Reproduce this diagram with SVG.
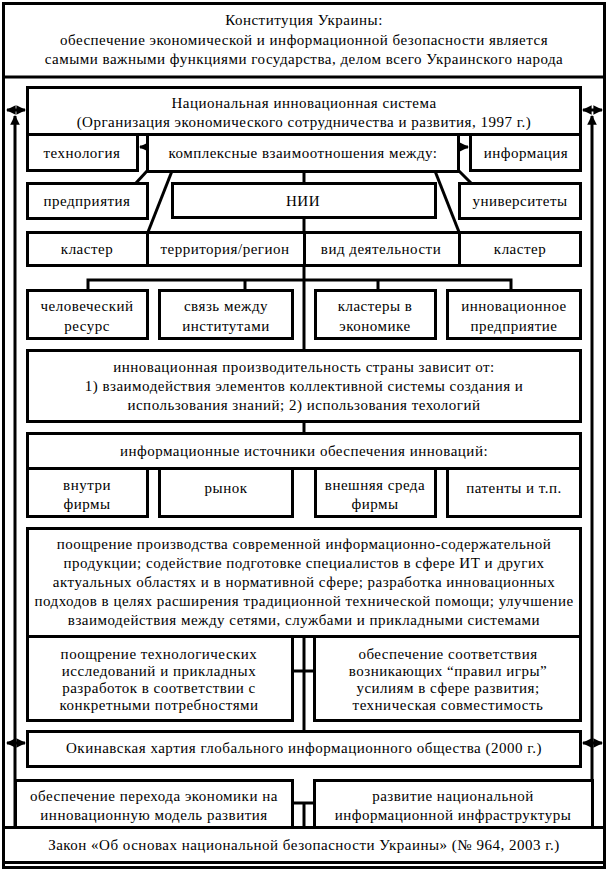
<svg xmlns="http://www.w3.org/2000/svg" width="608" height="872" viewBox="0 0 608 872">
<defs>
<style>
.b{fill:#fff;stroke:#000;stroke-width:3}
.l{fill:none;stroke:#000;stroke-width:3}
.t{font-size:15px;fill:#000;text-anchor:middle;letter-spacing:0.5px}
</style>
<marker id="ah" viewBox="0 0 10 10" refX="9" refY="5" markerWidth="3.2" markerHeight="3.2" orient="auto-start-reverse" markerUnits="strokeWidth">
<path d="M0,0 L10,5 L0,10 Z" fill="#000"/>
</marker>
</defs>
<rect x="0" y="0" width="608" height="872" fill="#fff"/>

<g id="outer">
<rect class="b" x="3.5" y="3.5" width="601" height="864"/>
</g>

<g font-family="'Liberation Serif', 'DejaVu Serif', serif">
<g id="constitution">
<line class="l" x1="3" y1="77" x2="605" y2="77"/>
<text class="t" x="304" y="25">Конституция Украины:</text>
<text class="t" x="304" y="45">обеспечение экономической и информационной безопасности является</text>
<text class="t" x="304" y="64">самыми важными функциями государства, делом всего Украинского народа</text>
</g>

<g id="connectors">
<line class="l" x1="15" y1="827" x2="15" y2="116" marker-end="url(#ah)"/>
<line class="l" x1="592" y1="827" x2="592" y2="116" marker-end="url(#ah)"/>
<line class="l" x1="7" y1="110" x2="25" y2="110" marker-start="url(#ah)" marker-end="url(#ah)"/>
<line class="l" x1="583" y1="110" x2="602" y2="110" marker-start="url(#ah)" marker-end="url(#ah)"/>
<line class="l" x1="7" y1="743" x2="25" y2="743" marker-start="url(#ah)" marker-end="url(#ah)"/>
<line class="l" x1="583" y1="743" x2="602" y2="743" marker-start="url(#ah)" marker-end="url(#ah)"/>
<line class="l" x1="147" y1="147" x2="140" y2="147" marker-end="url(#ah)"/>
<line class="l" x1="459" y1="147" x2="468" y2="147" marker-end="url(#ah)"/>
<line class="l" x1="147" y1="171" x2="136" y2="183"/>
<line class="l" x1="459" y1="171" x2="471" y2="183"/>
<line class="l" x1="172" y1="171" x2="148" y2="232"/>
<line class="l" x1="435" y1="171" x2="459" y2="232"/>
<line class="l" x1="304" y1="171" x2="304" y2="183"/>
<line class="l" x1="304" y1="217" x2="304" y2="232"/>
<line class="l" x1="304" y1="265" x2="304" y2="350"/>
<polyline class="l" points="88,291 88,280 511,280 511,291"/>
<line class="l" x1="245" y1="280" x2="245" y2="291"/>
<line class="l" x1="378" y1="280" x2="378" y2="291"/>
<line class="l" x1="304" y1="421" x2="304" y2="433"/>
<line class="l" x1="304" y1="636" x2="304" y2="731"/>
<line class="l" x1="292" y1="671" x2="315" y2="671"/>
<line class="l" x1="292" y1="803" x2="315" y2="803"/>
<line class="l" x1="304" y1="803" x2="304" y2="827"/>
</g>

<g id="nis">
<rect class="b" x="27.5" y="87.5" width="553" height="47"/>
<text class="t" x="304" y="108">Национальная инновационная система</text>
<text class="t" x="304" y="127">(Организация экономического сотрудничества и развития, 1997 г.)</text>
</g>
<g id="tech">
<rect class="b" x="27.5" y="134.5" width="110" height="36"/>
<text class="t" x="82" y="158">технология</text>
</g>
<g id="complex">
<rect class="b" x="147.5" y="134.5" width="311" height="37"/>
<text class="t" x="303" y="158">комплексные взаимоотношения между:</text>
</g>
<g id="info">
<rect class="b" x="470.5" y="134.5" width="110" height="36"/>
<text class="t" x="526" y="158">информация</text>
</g>
<g id="enterprises">
<rect class="b" x="27.5" y="183.5" width="120" height="35"/>
<text class="t" x="87" y="206">предприятия</text>
</g>
<g id="nii">
<rect class="b" x="172.5" y="183.5" width="263" height="34"/>
<text class="t" x="303" y="206">НИИ</text>
</g>
<g id="universities">
<rect class="b" x="459.5" y="183.5" width="121" height="35"/>
<text class="t" x="520" y="206">университеты</text>
</g>
<g id="cluster1">
<rect class="b" x="27.5" y="232.5" width="120" height="33"/>
<text class="t" x="87" y="254">кластер</text>
</g>
<g id="territory">
<rect class="b" x="147.5" y="232.5" width="157" height="33"/>
<text class="t" x="225" y="254">территория/регион</text>
</g>
<g id="activity">
<rect class="b" x="304.5" y="232.5" width="155" height="33"/>
<text class="t" x="381" y="254">вид деятельности</text>
</g>
<g id="cluster2">
<rect class="b" x="459.5" y="232.5" width="121" height="33"/>
<text class="t" x="520" y="254">кластер</text>
</g>

<g id="human">
<rect class="b" x="27.5" y="290.5" width="120" height="48"/>
<text class="t" x="87" y="311">человеческий</text>
<text class="t" x="87" y="331">ресурс</text>
</g>
<g id="link">
<rect class="b" x="159.5" y="290.5" width="133" height="48"/>
<text class="t" x="226" y="311">связь между</text>
<text class="t" x="226" y="331">институтами</text>
</g>
<g id="clusters">
<rect class="b" x="315.5" y="290.5" width="120" height="48"/>
<text class="t" x="375" y="311">кластеры в</text>
<text class="t" x="375" y="331">экономике</text>
</g>
<g id="innovent">
<rect class="b" x="447.5" y="290.5" width="133" height="48"/>
<text class="t" x="514" y="311">инновационное</text>
<text class="t" x="514" y="331">предприятие</text>
</g>

<g id="productivity">
<rect class="b" x="27.5" y="350.5" width="553" height="71"/>
<text class="t" x="304" y="372">инновационная производительность страны зависит от:</text>
<text class="t" x="304" y="391">1) взаимодействия элементов коллективной системы создания и</text>
<text class="t" x="304" y="410">использования знаний; 2) использования техологий</text>
</g>

<g id="sources">
<rect class="b" x="27.5" y="433.5" width="553" height="35"/>
<text class="t" x="304" y="456">информационные источники обеспечения инноваций:</text>
</g>
<g id="inside">
<rect class="b" x="27.5" y="468.5" width="120" height="48"/>
<text class="t" x="87" y="490">внутри</text>
<text class="t" x="87" y="509">фирмы</text>
</g>
<g id="market">
<rect class="b" x="159.5" y="468.5" width="133" height="48"/>
<text class="t" x="226" y="493">рынок</text>
</g>
<g id="external">
<rect class="b" x="315.5" y="468.5" width="120" height="48"/>
<text class="t" x="375" y="490">внешняя среда</text>
<text class="t" x="375" y="509">фирмы</text>
</g>
<g id="patents">
<rect class="b" x="447.5" y="468.5" width="133" height="48"/>
<text class="t" x="514" y="493">патенты и т.п.</text>
</g>

<g id="promotion">
<rect class="b" x="27.5" y="528.5" width="553" height="108"/>
<text class="t" x="304" y="549">поощрение производства современной информационно-содержательной</text>
<text class="t" x="304" y="568">продукции; содействие подготовке специалистов в сфере ИТ и других</text>
<text class="t" x="304" y="587">актуальных областях и в нормативной сфере; разработка инновационных</text>
<text class="t" x="304" y="606">подходов в целях расширения традиционной технической помощи; улучшение</text>
<text class="t" x="304" y="625">взаимодействия между сетями, службами и прикладными системами</text>
</g>
<g id="research">
<rect class="b" x="27.5" y="636.5" width="265" height="84"/>
<text class="t" x="159" y="659">поощрение технологических</text>
<text class="t" x="159" y="676">исследований и прикладных</text>
<text class="t" x="159" y="693">разработок в соответствии с</text>
<text class="t" x="159" y="710">конкретными потребностями</text>
</g>
<g id="rules">
<rect class="b" x="314.5" y="636.5" width="266" height="84"/>
<text class="t" x="448" y="659">обеспечение соответствия</text>
<text class="t" x="448" y="676">возникающих “правил игры”</text>
<text class="t" x="448" y="693">усилиям в сфере развития;</text>
<text class="t" x="448" y="710">техническая совместимость</text>
</g>

<g id="okinawa">
<rect class="b" x="27.5" y="731.5" width="553" height="35"/>
<text class="t" x="304" y="753">Окинавская хартия глобального информационного общества (2000 г.)</text>
</g>

<g id="transition">
<rect class="b" x="15.5" y="780.5" width="277" height="47"/>
<text class="t" x="154" y="801">обеспечение перехода экономики на</text>
<text class="t" x="154" y="820">инновационную модель развития</text>
</g>
<g id="infrastructure">
<rect class="b" x="314.5" y="780.5" width="278" height="47"/>
<text class="t" x="453" y="801">развитие национальной</text>
<text class="t" x="453" y="820">информационной инфраструктуры</text>
</g>

<g id="law">
<rect class="b" x="3.5" y="827.5" width="601" height="35"/>
<text class="t" x="304" y="850">Закон «Об основах национальной безопасности Украины» (№ 964, 2003 г.)</text>
</g>
</g>
</svg>
